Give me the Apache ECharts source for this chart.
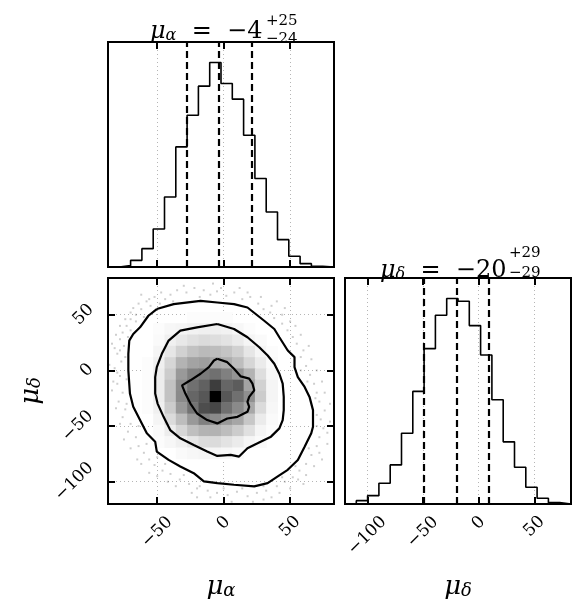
<!DOCTYPE html>
<html>
<head>
<meta charset="utf-8">
<script src="https://cdn.jsdelivr.net/npm/echarts@6/dist/echarts.min.js"></script>
<style>
  html, body { margin: 0; padding: 0; background: #fff; }
  #chart { width: 582px; height: 613px; }
</style>
</head>
<body>
<div id="chart"></div>
<script>
// axis limits = histogram ranges of the two parameters
const alphaRange = [-87, 83];
const deltaRange = [-120, 83];
const nBins = 20;

const alphaTicks = [-50, 0, 50];
const deltaTicks = [-100, -50, 0, 50];

// 1D histograms (arbitrary units), 20 bins over the ranges above
const alphaHist = [0, 4, 20, 55, 114, 210, 360, 455, 542, 613, 550, 503, 395, 265, 165, 82, 32, 10, 2, 0];
const deltaHist = [0, 10, 25, 62, 117, 212, 337, 465, 565, 615, 607, 534, 446, 312, 186, 110, 50, 17, 4, 0];

// 16 / 50 / 84 % quantiles
const alphaQuant = [-28, -4, 21];
const deltaQuant = [-49, -20, 9];

// 2D density (0..100), rows from top (high mu_delta) down, columns from low mu_alpha
const density = [
  [0,0,0,0,0,0,0,0,0,0,0,0,0,0,0,0,0,0,0,0],
  [0,0,0,0,0,0,0,0,0,0,0,0,0,0,0,0,0,0,0,0],
  [0,0,0,0,0,0,0,0,0,0,0,0,0,0,0,0,0,0,0,0],
  [0,0,0,0,0,0,0,1,1,1,1,0,0,0,0,0,0,0,0,0],
  [0,0,0,0,1,3,4,5,6,6,5,3,1,0,0,0,0,0,0,0],
  [0,0,0,0,2,6,9,12,14,13,11,8,4,2,0,0,0,0,0,0],
  [0,0,0,0,4,10,18,24,27,26,23,18,10,4,1,0,0,0,0,0],
  [0,0,0,1,6,16,30,36,38,34,32,26,16,8,2,0,0,0,0,0],
  [0,0,0,1,7,20,40,50,52,56,50,42,30,13,3,0,0,0,0,0],
  [0,0,0,1,7,24,45,56,62,76,60,64,36,18,4,0,0,0,0,0],
  [0,0,0,1,7,24,46,60,66,100,66,56,44,20,4,0,0,0,0,0],
  [0,0,0,1,6,20,40,55,70,72,56,46,34,14,3,0,0,0,0,0],
  [0,0,0,0,4,14,26,40,50,46,40,35,22,8,2,0,0,0,0,0],
  [0,0,0,0,2,7,16,25,30,30,26,20,12,4,1,0,0,0,0,0],
  [0,0,0,0,1,3,6,10,14,14,11,8,4,2,0,0,0,0,0,0],
  [0,0,0,0,0,0,2,3,4,4,3,2,0,0,0,0,0,0,0,0],
  [0,0,0,0,0,0,0,0,0,0,0,0,0,0,0,0,0,0,0,0],
  [0,0,0,0,0,0,0,0,0,0,0,0,0,0,0,0,0,0,0,0],
  [0,0,0,0,0,0,0,0,0,0,0,0,0,0,0,0,0,0,0,0],
  [0,0,0,0,0,0,0,0,0,0,0,0,0,0,0,0,0,0,0,0]
];

// contours, [mu_alpha, mu_delta]
const contourOuter = [
  [-50.3,55.1],[-37.6,59.5],[-17.4,62.5],[-4.8,61],[7.8,59.5],[17.9,56.5],[30.5,44.6],[38.1,37.2],
  [41.9,29.8],[48.2,17.9],[53.3,11.9],[53.3,3],[55.8,-6],[60.9,-14.9],[64.6,-23.8],[67.2,-35.7],
  [67.2,-50.6],[65.9,-56.5],[60.9,-68.5],[55.8,-80.4],[48.2,-89.3],[40.7,-95.2],[33.1,-101.2],
  [23,-104.2],[7.8,-102.7],[-4.8,-101.2],[-14.9,-99.7],[-22.5,-92.3],[-32.6,-86.3],[-41.4,-80.4],
  [-50.3,-72.9],[-51.5,-64],[-57.8,-56.5],[-62.9,-44.6],[-68,-32.7],[-70.5,-20.8],[-71.7,0],
  [-71.7,14.9],[-71,26.8],[-68,32.7],[-62.9,38.7],[-56.6,49.1],[-50.3,55.1]
];
const contourMid = [
  [-4.8,41.7],[7.8,37.2],[17.9,29.8],[26.8,20.8],[33.1,13.4],[38.1,6],[41.9,-3],[44.4,-11.9],
  [45.2,-23.8],[45.2,-35.7],[44.4,-44.6],[41.9,-52.1],[35.6,-59.5],[25.5,-65.5],[17.9,-69.9],
  [11.6,-77.4],[5.3,-75.9],[-4.8,-76.8],[-12.4,-72.9],[-22.5,-67],[-32.6,-61],[-40.2,-53.6],
  [-45.2,-41.7],[-49.7,-29.8],[-51.5,-20.8],[-51.5,-6],[-50.3,3],[-46.5,14.9],[-41.4,26.8],
  [-32.6,35.7],[-20,38.7],[-4.8,41.7]
];
const contourInner = [
  [-4.8,10.4],[2.7,7.4],[7.8,1.5],[12.9,-5.4],[19.2,-7.4],[21.7,-11.9],[23,-17.9],[19.2,-23.8],
  [17.9,-28.3],[19.2,-32.7],[17.9,-37.2],[10.4,-41.7],[2.7,-43.2],[-4.8,-47.6],[-12.4,-44.6],
  [-20,-38.7],[-25,-29.8],[-28.8,-20.8],[-31.3,-13.4],[-25,-8.9],[-17.4,-3],[-11.1,3],[-7.3,8.9],
  [-4.8,10.4]
];

// faint samples outside the outer contour
const samples = [
  [-58,62],[-52,66],[-47,70],[-40,68],[-35,72],[-28,70],[-22,74],[-15,72],[-10,68],[-5,71],[2,67],
  [8,70],[14,64],[20,66],[26,60],[30,55],[35,52],[38,47],[-62,55],[-66,50],[-70,46],[-73,40],
  [-76,34],[-78,28],[-75,22],[-80,15],[-77,8],[-82,2],[-78,-5],[-80,-12],[-76,-20],[-79,-28],
  [-74,-35],[-76,-42],[-70,-48],[-72,-55],[-66,-60],[-64,-68],[-60,-74],[-56,-80],[-52,-85],
  [-46,-90],[-40,-93],[-33,-98],[-26,-102],[-20,-106],[-12,-108],[-5,-110],[3,-112],[10,-109],
  [18,-113],[25,-110],[32,-108],[40,-104],[46,-100],[52,-96],[57,-90],[62,-84],[66,-76],[70,-68],
  [72,-60],[75,-52],[73,-44],[76,-36],[72,-28],[70,-20],[68,-12],[65,-4],[62,4],[58,12],[60,18],
  [55,24],[52,30],[48,36],[44,42],[-48,60],[-55,58],[-60,48],[-66,44],[-70,36],[-72,30],[-78,18],
  [-74,12],[-73,-8],[-73,-30],[-64,-50],[-58,-66],[-50,-78],[-44,-84],[-30,-94],[-18,-104],
  [0,-106],[14,-106],[30,-104],[44,-96],[54,-86],[64,-70],[70,-50],[70,-40],[69,-25],[63,-10],
  [58,0],[44,50],[50,44],[36,58],[-84,-18],[-82,20],[-65,-80],[-50,-95],[74,-80],[78,-56],
  [80,-30],[-62,68],[-30,76],[-8,78],[12,74],[40,62],[-86,5],[6,-118],[-20,-114],[36,-114],[60,-102],
  [-68,56],[-64,60],[-56,64],[-44,64],[-38,62],[-70,52],[-74,46],[-78,40],[-81,32],[-84,24],
  [-80,-2],[-83,-10],[-81,-34],[-78,-48],[-75,-62],[-70,-70],[-62,-84],[-56,-92],[-42,-100],
  [-36,-104],[-24,-110],[-10,-114],[22,-118],[30,-116],[42,-110],[50,-106],[56,-98],[62,-94],
  [68,-86],[72,-74],[78,-66],[80,-46],[76,-20],[74,-10],[70,0],[66,10],[64,22],[58,32],[54,40],
  [46,56],[28,66],[-18,66],[-2,74],[18,70]
];

const chart = echarts.init(document.getElementById('chart'));

const binEdge = (range, i) => range[0] + (range[1] - range[0]) * i / nBins;

// step outline of a histogram
function stepData(hist, range) {
  const pts = [[binEdge(range, 0), 0]];
  hist.forEach((c, i) => pts.push([binEdge(range, i), c]));
  pts.push([binEdge(range, nBins), hist[nBins - 1]]);
  pts.push([binEdge(range, nBins), 0]);
  return pts;
}

const cells = [];
density.forEach((row, r) => {
  const yb = nBins - 1 - r;
  row.forEach((v, c) => {
    if (v > 0) {
      cells.push([binEdge(alphaRange, c), binEdge(alphaRange, c + 1),
                  binEdge(deltaRange, yb), binEdge(deltaRange, yb + 1), v]);
    }
  });
});

const minus = '\u2212';
const fmt = v => (v < 0 ? minus + Math.abs(v) : String(v));
const serif = 'DejaVu Serif';

const tickStyle = { show: true, inside: true, length: 7, lineStyle: { color: '#000', width: 2 } };
const dotted = { show: true, lineStyle: { color: '#b5b5b5', type: [1, 3], width: 1 } };

// rotated tick labels: longer labels are pushed away from the axis (x: down, y: left),
// so their bounding boxes line up at the axis side like matplotlib's
const padSteps = [0, 0, 5, 13, 18];
const labelRich = {};
padSteps.forEach((p, n) => {
  labelRich['x' + n] = { fontFamily: serif, fontSize: 17, color: '#000', padding: [p, p, 0, 0] };
  labelRich['y' + n] = { fontFamily: serif, fontSize: 17, color: '#000', padding: [0, p, p, 0] };
});
function labels(vals, dir) {
  return {
    show: true, customValues: vals, rotate: 45, align: 'center', verticalAlign: 'middle',
    margin: dir === 'x' ? 19 : 21, rich: labelRich,
    formatter: v => { const s = fmt(v); return '{' + dir + s.length + '|' + s + '}'; }
  };
}

const nameRich = {
  m: { fontFamily: serif, fontStyle: 'italic', fontSize: 26, color: '#000' },
  s: { fontFamily: serif, fontStyle: 'italic', fontSize: 18, color: '#000', verticalAlign: 'bottom' }
};

function axis(extra) {
  return Object.assign({
    type: 'value', axisLine: { show: false, onZero: false }, axisLabel: { show: false },
    splitLine: { show: false }, axisTick: { show: false }
  }, extra);
}

const ticks = vals => Object.assign({}, tickStyle, { customValues: vals });

// title like mu_alpha = -4^{+25}_{-24}
const titleRich = {
  m: { fontFamily: serif, fontStyle: 'italic', fontWeight: 'normal', fontSize: 24, color: '#000' },
  s: { fontFamily: serif, fontStyle: 'italic', fontWeight: 'normal', fontSize: 16, color: '#000', verticalAlign: 'bottom' },
  o: { fontFamily: serif, fontWeight: 'normal', fontSize: 24, color: '#000' }
};
const scriptStyle = { fontFamily: serif, fontSize: 15, fontWeight: 'normal', color: '#000' };
function titleText(sym, q) {
  return '{m|μ}{s|' + sym + '}{o|  =  ' + minus + Math.abs(q[1]) + '}';
}
const up = q => '+' + (q[2] - q[1]);
const lo = q => minus + (q[1] - q[0]);

const option = {
  animation: false,
  backgroundColor: '#fff',
  title: [
    { text: titleText('α', alphaQuant), left: 145, top: 15, textStyle: { rich: titleRich } },
    { text: up(alphaQuant), left: 261, top: 9, textStyle: scriptStyle },
    { text: lo(alphaQuant), left: 261, top: 27, textStyle: scriptStyle },
    { text: titleText('δ', deltaQuant), left: 375, top: 254, textStyle: { rich: titleRich } },
    { text: up(deltaQuant), left: 504, top: 241, textStyle: scriptStyle },
    { text: lo(deltaQuant), left: 504, top: 261, textStyle: scriptStyle }
  ],
  grid: [
    { left: 108, top: 42, width: 226, height: 225, show: true, borderColor: '#000', borderWidth: 2 },
    { left: 108, top: 278, width: 226, height: 226, show: true, borderColor: '#000', borderWidth: 2 },
    { left: 345, top: 278, width: 226, height: 226, show: true, borderColor: '#000', borderWidth: 2 }
  ],
  xAxis: [
    axis({ gridIndex: 0, position: 'bottom', min: alphaRange[0], max: alphaRange[1],
           axisTick: ticks(alphaTicks), splitLine: dotted }),
    axis({ gridIndex: 0, position: 'top', min: alphaRange[0], max: alphaRange[1],
           axisTick: ticks(alphaTicks) }),
    axis({ gridIndex: 1, position: 'bottom', min: alphaRange[0], max: alphaRange[1],
           axisTick: ticks(alphaTicks), splitLine: dotted, axisLabel: labels(alphaTicks, 'x'),
           name: '{m|μ}{s|α}', nameLocation: 'middle', nameGap: 70,
           nameTextStyle: { rich: nameRich } }),
    axis({ gridIndex: 1, position: 'top', min: alphaRange[0], max: alphaRange[1],
           axisTick: ticks(alphaTicks) }),
    axis({ gridIndex: 2, position: 'bottom', min: deltaRange[0], max: deltaRange[1],
           axisTick: ticks(deltaTicks), splitLine: dotted, axisLabel: labels(deltaTicks, 'x'),
           name: '{m|μ}{s|δ}', nameLocation: 'middle', nameGap: 70,
           nameTextStyle: { rich: nameRich } }),
    axis({ gridIndex: 2, position: 'top', min: deltaRange[0], max: deltaRange[1],
           axisTick: ticks(deltaTicks) })
  ],
  yAxis: [
    axis({ gridIndex: 0, min: 0, max: Math.max(...alphaHist) * 1.1 }),
    axis({ gridIndex: 1, position: 'left', min: deltaRange[0], max: deltaRange[1],
           axisTick: ticks(deltaTicks), splitLine: dotted, axisLabel: labels(deltaTicks, 'y'),
           name: '{m|μ}{s|δ}', nameLocation: 'middle', nameGap: 64, nameRotate: 90,
           nameTextStyle: { rich: nameRich } }),
    axis({ gridIndex: 1, position: 'right', min: deltaRange[0], max: deltaRange[1],
           axisTick: ticks(deltaTicks) }),
    axis({ gridIndex: 2, min: 0, max: Math.max(...deltaHist) * 1.1 })
  ],
  series: [
    {
      type: 'line', xAxisIndex: 0, yAxisIndex: 0, step: 'end', symbol: 'none',
      data: stepData(alphaHist, alphaRange), lineStyle: { color: '#000', width: 1.6 },
      markLine: {
        symbol: 'none', silent: true, label: { show: false },
        lineStyle: { color: '#000', type: [7, 4], width: 2.2 },
        data: alphaQuant.map(q => ({ xAxis: q }))
      }
    },
    {
      type: 'line', xAxisIndex: 4, yAxisIndex: 3, step: 'end', symbol: 'none',
      data: stepData(deltaHist, deltaRange), lineStyle: { color: '#000', width: 1.6 },
      markLine: {
        symbol: 'none', silent: true, label: { show: false },
        lineStyle: { color: '#000', type: [7, 4], width: 2.2 },
        data: deltaQuant.map(q => ({ xAxis: q }))
      }
    },
    {
      type: 'custom', xAxisIndex: 2, yAxisIndex: 1, data: cells, encode: { x: [0, 1], y: [2, 3] },
      renderItem: (params, api) => {
        const p0 = api.coord([api.value(0), api.value(3)]);
        const p1 = api.coord([api.value(1), api.value(2)]);
        const g = Math.round(255 * (1 - api.value(4) / 100));
        return {
          type: 'rect',
          shape: { x: p0[0], y: p0[1], width: p1[0] - p0[0] + 0.5, height: p1[1] - p0[1] + 0.5 },
          style: { fill: 'rgb(' + g + ',' + g + ',' + g + ')' }
        };
      }
    },
    {
      type: 'scatter', xAxisIndex: 2, yAxisIndex: 1, data: samples, symbol: 'rect', symbolSize: 2,
      itemStyle: { color: 'rgba(0,0,0,0.24)' }, silent: true
    },
    ...[contourOuter, contourMid, contourInner].map(c => ({
      type: 'line', xAxisIndex: 2, yAxisIndex: 1, data: c, symbol: 'none', silent: true,
      lineStyle: { color: '#000', width: 2.2 }
    }))
  ]
};

chart.setOption(option);
</script>
</body>
</html>
